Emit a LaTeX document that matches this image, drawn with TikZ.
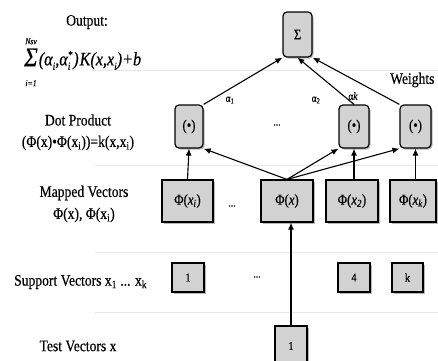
\documentclass[tikz,border=0pt]{standalone}
\usepackage{fontspec}
\setmainfont{Liberation Serif}[FakeStretch=0.85,FakeBold=0.4]
\usetikzlibrary{shadows,arrows.meta}
\newcommand{\sumsym}{\begin{tabular}{@{}c@{}}{\fontsize{9}{9}\selectfont\itshape Nsv}\\[-2pt]{\fontsize{27}{27}\selectfont Σ}\\[-1pt]{\fontsize{9}{9}\selectfont\itshape i=1}\end{tabular}}
\newcommand{\subsup}[2]{{\fontsize{11}{11}\selectfont\rlap{\raisebox{7pt}{#2}}\raisebox{-4.5pt}{\makebox[5.5pt][l]{#1}}}}
\newcommand{\subonly}[1]{{\fontsize{11}{11}\selectfont\raisebox{-4.5pt}{#1}}}
\begin{document}
\begin{tikzpicture}[x=1pt,y=-1pt,
  box/.style={draw, line width=1.2pt, fill=gray!35, inner sep=0pt,
    drop shadow={shadow xshift=1.5pt, shadow yshift=-1.5pt, fill=gray!80, opacity=0.7}},
  rbox/.style={box, rounded corners=4pt},
  lbl/.style={font=\fontsize{16}{18}\selectfont, align=center, inner sep=0pt},
  btxt/.style={font=\fontsize{15}{17}\selectfont},
  ntxt/.style={font=\fontsize{12}{14}\selectfont},
  sep/.style={draw=gray!18, line width=0.8pt},
  arr/.style={-{Latex[length=7pt,width=6pt]}, line width=1.1pt},
  small/.style={font=\fontsize{11}{13}\selectfont, inner sep=0pt}]
\useasboundingbox (0,0) rectangle (438,360);
% separators
\draw[sep] (92,70) -- (438,70);
\draw[sep] (95,165) -- (438,165);
\draw[sep] (95,252) -- (438,252);
\draw[sep] (95,312) -- (438,312);
% left labels
\node[lbl] (lout) at (87,22) {Output:};
\node[inner sep=0pt, anchor=west, font=\fontsize{19}{21}\selectfont\itshape] (lsum) at (24,61) {\sumsym\kern1pt(α\subonly{i},α\subsup{i}{*})\kern1pt K(x,x\subonly{i})+b};
\node[lbl] (ldot) at (78,120) {Dot Product};
\node[lbl] (ldotf) at (78,143) {(Φ(x)•Φ(x\textsubscript{i}))=k(x,x\textsubscript{i})};
\node[lbl] (lmap) at (84,193) {Mapped Vectors};
\node[lbl] (lmapf) at (84,215) {Φ(x), Φ(x\textsubscript{i})};
\node[lbl, anchor=west] (lsup) at (14,282) {Support Vectors x\textsubscript{1} ... x\textsubscript{k}};
\node[lbl] (ltest) at (78,346) {Test Vectors x};
% boxes
\node[rbox, minimum width=29pt, minimum height=45pt, btxt] (sig) at (297.5,34.5) {Σ};
\node[rbox, minimum width=28pt, minimum height=43pt, btxt] (dot1) at (189,126.5) {(•)};
\node[rbox, minimum width=30pt, minimum height=43pt, btxt] (dot2) at (354,126.5) {(•)};
\node[rbox, minimum width=31pt, minimum height=43pt, btxt] (dot3) at (415.5,126.5) {(•)};
\node[box, minimum width=51pt, minimum height=42pt, btxt] (phii) at (187.5,201) {Φ(\textit{x\textsubscript{i}})};
\node[box, minimum width=52pt, minimum height=42pt, btxt] (phix) at (287,201) {Φ(\textit{x})};
\node[box, minimum width=52pt, minimum height=42pt, btxt] (phi2) at (352,201) {Φ(\textit{x\textsubscript{2}})};
\node[box, minimum width=46pt, minimum height=42pt, btxt] (phik) at (413,201) {Φ(\textit{x\textsubscript{k}})};
\node[box, minimum width=32pt, minimum height=29pt, ntxt] (s1) at (188,277.5) {1};
\node[box, minimum width=32pt, minimum height=29pt, ntxt] (s4) at (354,277.5) {4};
\node[box, minimum width=31pt, minimum height=29pt, ntxt] (sk) at (407.5,277.5) {k};
\node[box, minimum width=32pt, minimum height=40pt, ntxt] (test) at (291,346) {1};
% dots
\node[small] (d1) at (277,125) {...};
\node[small] (d2) at (232,206) {...};
\node[small] (d3) at (257,277) {...};
% weights
\node[lbl, anchor=west] (w) at (390,80) {Weights};
\node[small] (a1) at (230,100) {α\textsubscript{1}};
\node[small] (a2) at (316,100) {α\textsubscript{2}};
\node[small] (ak) at (353,96) {α\textit{k}};
% arrows
\draw[arr] (dot1.north east) -- (sig.south west);
\draw[arr] (dot2.north) -- (sig.south);
\draw[arr] (dot3.north west) -- (sig.south east);
\draw[arr] (phii.north) -- (dot1.south);
\draw[arr] (phix.north) -- (dot1.south east);
\draw[arr] (phix.north) -- (dot2.south west);
\draw[arr] (phix.north) -- (dot3.south west);
\draw[arr] (phi2.north -| dot2.south) -- (dot2.south);
\draw[arr] (phik.north -| dot3.south) -- (dot3.south);
\draw[arr] (test.north) -- (test.north |- phix.south);
\end{tikzpicture}
\end{document}
